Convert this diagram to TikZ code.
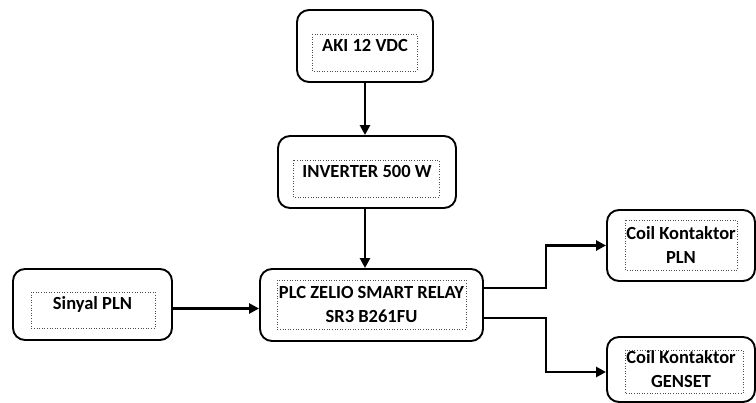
\documentclass[tikz,border=0pt]{standalone}
\usepackage{fontspec}
\setmainfont{Carlito}
\usetikzlibrary{arrows.meta,positioning}

\tikzset{
    blok/.style={draw, line width=1.9pt, rounded corners=12pt,
        align=center, font=\bfseries\fontsize{18.5}{24}\selectfont},
    bingkai/.style={draw=black!70, dotted, line width=0.6pt},
    panah/.style={line width=2.8pt, -{Triangle[length=10pt,width=10pt]}}
}

\begin{document}
\begin{tikzpicture}[x=1pt, y=-1pt]
    \useasboundingbox (0,0) rectangle (756,403);

    % Blocks
    \node[blok, minimum width=136pt, minimum height=72pt] (aki) at (365,46)
        {AKI 12 VDC};
    \node[blok, minimum width=178pt, minimum height=72pt] (inv) at (367,172)
        {INVERTER 500 W};
    \node[blok, minimum width=223pt, minimum height=72pt] (plc) at (371.5,305)
        {PLC ZELIO SMART RELAY\\SR3 B261FU};
    \node[blok, minimum width=159pt, minimum height=71pt] (sinyal) at (92.5,304.5)
        {Sinyal PLN};
    \node[blok, minimum width=148pt, minimum height=71pt] (coilpln) at (681,245.5)
        {Coil Kontaktor\\PLN};
    \node[blok, minimum width=148pt, minimum height=65pt] (coilgen) at (681,369.5)
        {Coil Kontaktor\\GENSET};

    % Dotted text frames
    \foreach \xa/\ya/\xb/\yb in {
        312/34/417/71, 293/160/439/197, 277/280/466/329,
        31/292/155/328, 625/220/737/270, 625/350/743/393}{
        \draw[bingkai] (\xa,\ya) rectangle (\xb,\yb);
    }

    % Connectors
    \draw[panah] (aki.south) -- (aki.south |- inv.north);
    \draw[panah] ([xshift=-2pt]inv.south) -- ([xshift=-2pt]inv.south |- plc.north);
    \draw[panah] ([yshift=-4pt]sinyal.east) -- ([yshift=-4pt]sinyal.east -| plc.west);
    \draw[panah] ([yshift=17pt]plc.east) -- ++(62,0) |- (coilpln.west);
    \draw[panah] ([yshift=-13pt]plc.east) -- ++(62,0) |- ([yshift=-2.5pt]coilgen.west);

\end{tikzpicture}
\end{document}
